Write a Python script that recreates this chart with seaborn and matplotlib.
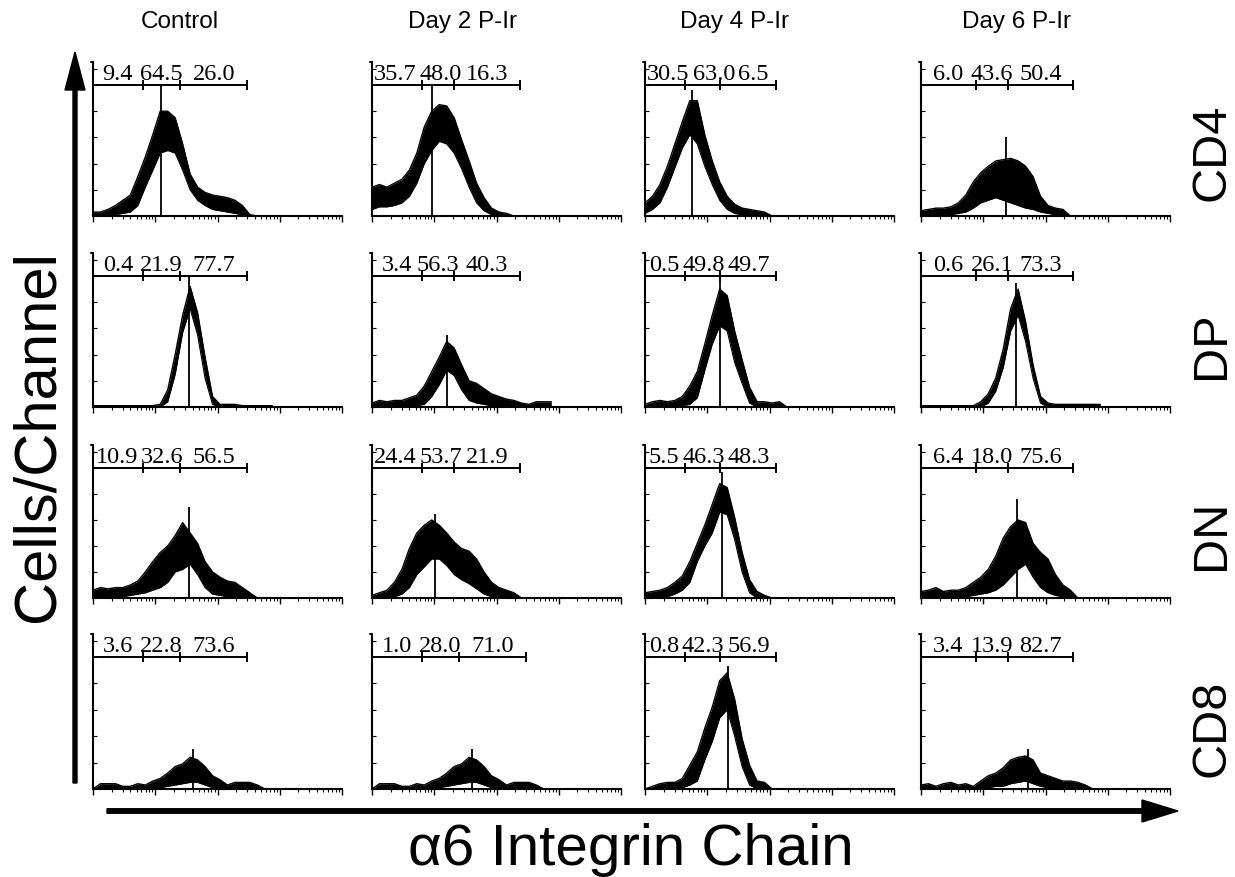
import numpy as np
import pandas as pd
import matplotlib
matplotlib.use("Agg")
import matplotlib.pyplot as plt
import seaborn as sns

# ---------------- data ----------------
columns = ["Control", "Day 2 P-Ir", "Day 4 P-Ir", "Day 6 P-Ir"]
rows = ["CD4", "DP", "DN", "CD8"]

# channel positions (log10 fluorescence, 4 decades axis)
log_channel = [0.00, 0.12, 0.24, 0.36, 0.48, 0.60, 0.72, 0.84, 0.96, 1.08,
               1.20, 1.32, 1.44, 1.56, 1.68, 1.80, 1.92, 2.04, 2.16, 2.28,
               2.40, 2.52, 2.64, 2.76, 2.88]

# gate marks (log10 units) per column: [tick1, tick2, end]
gates_control = [0.80, 1.40, 2.48]
gates_day2 = [0.80, 1.32, 2.38]
gates_day2_cd8 = [0.80, 1.40, 2.48]
gates_day4 = [0.64, 1.20, 2.10]
gates_day6 = [0.88, 1.40, 2.44]

# gate percentages
pct_cd4 = [["9.4", "64.5", "26.0"], ["35.7", "48.0", "16.3"], ["30.5", "63.0", "6.5"], ["6.0", "43.6", "50.4"]]
pct_dp = [["0.4", "21.9", "77.7"], ["3.4", "56.3", "40.3"], ["0.5", "49.8", "49.7"], ["0.6", "26.1", "73.3"]]
pct_dn = [["10.9", "32.6", "56.5"], ["24.4", "53.7", "21.9"], ["5.5", "46.3", "48.3"], ["6.4", "18.0", "75.6"]]
pct_cd8 = [["3.6", "22.8", "73.6"], ["1.0", "28.0", "71.0"], ["0.8", "42.3", "56.9"], ["3.4", "13.9", "82.7"]]

# histogram noise band (upper / lower envelope), fraction of gate-line height
cd4_hi = [
    [.03, .03, .05, .08, .12, .16, .30, .45, .62, .80, .80, .75, .55, .32, .22, .18, .16, .15, .14, .12, .08, .01, 0, 0, 0],
    [.22, .24, .22, .25, .28, .35, .48, .68, .80, .85, .84, .75, .58, .42, .25, .14, .06, .03, .02, 0, 0, 0, 0, 0, 0],
    [.10, .15, .24, .38, .55, .72, .88, .88, .62, .42, .26, .15, .09, .06, .05, .04, .03, 0, 0, 0, 0, 0, 0, 0, 0],
    [.04, .05, .06, .06, .07, .10, .16, .26, .33, .38, .42, .43, .44, .42, .38, .30, .15, .08, .06, .05, 0, 0, 0, 0, 0],
]
cd4_lo = [
    [0, 0, 0, .01, .02, .03, .08, .22, .35, .48, .50, .48, .35, .20, .12, .08, .05, .04, .03, .02, .01, 0, 0, 0, 0],
    [.05, .07, .07, .08, .10, .15, .25, .40, .50, .57, .55, .48, .36, .22, .10, .04, .01, 0, 0, 0, 0, 0, 0, 0, 0],
    [.02, .05, .10, .22, .37, .52, .62, .55, .38, .24, .12, .05, .02, .01, 0, 0, 0, 0, 0, 0, 0, 0, 0, 0, 0],
    [0, 0, 0, 0, .01, .02, .03, .06, .10, .12, .14, .12, .10, .08, .06, .05, .03, .02, .01, 0, 0, 0, 0, 0, 0],
]
dp_hi = [
    [.01, .01, .01, .01, .01, .01, .01, .01, .01, .02, .13, .40, .70, .92, .72, .38, .08, .02, .02, .02, .01, .01, .01, .01, .01],
    [.03, .05, .04, .05, .05, .07, .09, .16, .27, .38, .50, .45, .32, .20, .18, .14, .10, .08, .06, .05, .03, .02, .04, .04, .04],
    [.02, .04, .05, .04, .05, .08, .16, .27, .48, .70, .90, .85, .58, .36, .15, .04, .04, .03, .04, 0, 0, 0, 0, 0, 0],
    [.01, .01, .01, .01, .01, .01, .01, .01, .04, .10, .22, .44, .75, .90, .65, .32, .08, .03, .02, .02, .02, .02, .02, .02, .02],
]
dp_lo = [
    [0, 0, 0, 0, 0, 0, 0, 0, 0, 0, .04, .25, .57, .75, .55, .22, .02, 0, 0, 0, 0, 0, 0, 0, 0],
    [0, 0, 0, 0, 0, .01, .01, .02, .08, .17, .28, .24, .13, .05, .03, .02, .01, 0, 0, 0, 0, 0, 0, 0, 0],
    [0, 0, 0, 0, 0, .01, .02, .07, .28, .48, .62, .58, .34, .18, .03, 0, 0, 0, 0, 0, 0, 0, 0, 0, 0],
    [0, 0, 0, 0, 0, 0, 0, 0, 0, .03, .12, .30, .58, .70, .50, .22, .03, 0, 0, 0, 0, 0, 0, 0, 0],
]
dn_hi = [
    [.06, .08, .07, .08, .08, .10, .13, .20, .28, .35, .40, .48, .58, .50, .42, .28, .20, .16, .13, .12, .08, .04, 0, 0, 0],
    [.02, .04, .06, .12, .22, .38, .50, .56, .60, .56, .50, .43, .38, .36, .30, .20, .12, .08, .06, .04, 0, 0, 0, 0, 0],
    [.04, .05, .06, .08, .12, .17, .28, .42, .56, .72, .88, .85, .62, .35, .14, .05, .02, 0, 0, 0, 0, 0, 0, 0, 0],
    [.05, .06, .08, .05, .06, .06, .08, .12, .16, .22, .32, .46, .55, .60, .58, .42, .35, .30, .18, .10, .06, 0, 0, 0, 0],
]
dn_lo = [
    [0, .01, 0, .01, .01, .02, .03, .04, .06, .08, .12, .20, .22, .26, .18, .08, .03, .02, .01, .01, 0, 0, 0, 0, 0],
    [0, 0, 0, .01, .03, .08, .18, .24, .30, .30, .25, .18, .14, .11, .07, .03, .01, 0, 0, 0, 0, 0, 0, 0, 0],
    [0, 0, .01, .01, .03, .06, .12, .28, .40, .50, .66, .64, .45, .20, .04, 0, 0, 0, 0, 0, 0, 0, 0, 0, 0],
    [0, 0, .01, 0, 0, 0, .01, .02, .03, .04, .06, .10, .16, .22, .26, .16, .08, .04, .02, .01, 0, 0, 0, 0, 0],
]
cd8_hi = [
    [0, .04, .04, .04, .02, .02, .04, .03, .06, .08, .12, .17, .19, .24, .22, .17, .10, .07, .03, .05, .05, .05, .03, 0, 0],
    [0, .04, .04, .04, .02, .02, .04, .03, .06, .08, .12, .17, .19, .24, .22, .17, .10, .07, .03, .05, .05, .05, .03, 0, 0],
    [0, .02, .04, .05, .05, .08, .18, .28, .46, .62, .82, .88, .68, .38, .18, .06, .05, 0, 0, 0, 0, 0, 0, 0, 0],
    [.03, .04, .02, .04, .05, .03, .04, .02, .06, .10, .12, .16, .22, .24, .25, .22, .12, .10, .08, .06, .06, .05, .03, 0, 0],
]
cd8_lo = [
    [0, 0, 0, 0, 0, 0, 0, 0, 0, .01, .02, .03, .04, .05, .05, .03, .01, 0, 0, 0, 0, 0, 0, 0, 0],
    [0, 0, 0, 0, 0, 0, 0, 0, 0, .01, .02, .03, .04, .05, .05, .03, .01, 0, 0, 0, 0, 0, 0, 0, 0],
    [0, 0, 0, 0, 0, .01, .03, .06, .22, .36, .54, .60, .40, .17, .03, 0, 0, 0, 0, 0, 0, 0, 0, 0, 0],
    [0, 0, 0, 0, 0, 0, 0, 0, 0, .01, .02, .02, .04, .05, .06, .04, .02, .01, 0, 0, 0, 0, 0, 0, 0],
]
# tallest single-channel spike per panel: position (log10) and height
spike_pos = [[1.10, 0.96, 0.76, 1.36], [1.54, 1.20, 1.20, 1.52], [1.54, 1.02, 1.24, 1.55], [1.61, 1.61, 1.34, 1.72]]
spike_h = [[1.00, 1.00, 0.96, 0.60], [1.00, 0.55, 0.97, 0.95], [0.70, 0.65, 0.97, 0.76], [0.30, 0.30, 0.93, 0.30]]

row_hi = [cd4_hi, dp_hi, dn_hi, cd8_hi]
row_lo = [cd4_lo, dp_lo, dn_lo, cd8_lo]
row_pct = [pct_cd4, pct_dp, pct_dn, pct_cd8]
col_gates = [gates_control, gates_day2, gates_day4, gates_day6]

# ---------------- layout ----------------
W, H = 1235, 877
sns.set_theme(style="white")
plt.rcParams["font.family"] = ["Liberation Sans", "DejaVu Sans"]
fig = plt.figure(figsize=(W / 100, H / 100), dpi=100)
fig.patch.set_facecolor("white")

col_left = [93, 372, 645, 921]
panel_w = 249
row_bracket = [85, 276, 468, 657]
row_bottom = [216, 407, 598, 789]
top_ext = 23

x_vals = 10 ** np.array(log_channel)
label_sets = []

for r in range(4):
    for c in range(4):
        top_px = row_bracket[r] - top_ext
        h_px = row_bottom[r] - top_px
        ytop = h_px / (row_bottom[r] - row_bracket[r])
        ax = fig.add_axes([col_left[c] / W, 1 - row_bottom[r] / H, panel_w / W, h_px / H])
        ax.set_facecolor("none")
        df = pd.DataFrame({"x": x_vals, "hi": row_hi[r][c], "lo": row_lo[r][c]})
        ax.fill_between(df["x"], df["lo"], df["hi"], color="black", lw=0)
        sns.lineplot(data=df, x="x", y="hi", ax=ax, color="black", lw=1.0, estimator=None)
        sns.lineplot(data=df, x="x", y="lo", ax=ax, color="black", lw=0.8, estimator=None)
        ax.vlines(10 ** spike_pos[r][c], 0, spike_h[r][c], color="black", lw=1.3)
        ax.set_xscale("log")
        ax.set_xlim(1, 1e4)
        ax.set_ylim(0, ytop)
        ax.set_xlabel("")
        ax.set_ylabel("")
        for s in ["top", "right"]:
            ax.spines[s].set_visible(False)
        for s in ["left", "bottom"]:
            ax.spines[s].set_color("black")
            ax.spines[s].set_linewidth(1.5)
        ax.tick_params(axis="x", which="both", direction="out", colors="black", labelbottom=False,
                       bottom=True)
        ax.tick_params(axis="x", which="major", length=4, width=1)
        ax.tick_params(axis="x", which="minor", length=2.5, width=0.8)
        ax.set_yticks([0.2, 0.4, 0.6, 0.8, 1.0, 1.12])
        ax.tick_params(axis="y", which="both", direction="in", length=3, width=0.8,
                       left=True, labelleft=False, colors="black")
        # gate bracket
        g = gates_day2_cd8 if (r == 3 and c == 1) else col_gates[c]
        ax.plot([1, 10 ** g[2]], [1, 1], color="black", lw=1.4, clip_on=False)
        ax.vlines([10 ** g[0], 10 ** g[1], 10 ** g[2]], 0.965, 1.035, color="black", lw=1.4, clip_on=False)
        ax.plot([10 ** -0.04, 1], [ytop, ytop], color="black", lw=1.4, clip_on=False)
        bounds = [0.0, g[0], g[1], g[2]]
        texts = []
        for k, lab in enumerate(row_pct[r][c]):
            xc = 10 ** ((bounds[k] + bounds[k + 1]) / 2)
            t = ax.text(xc, 1.04, lab, ha="center", va="baseline", fontsize=17.5,
                        family=["Liberation Serif", "DejaVu Serif"], color="black")
            texts.append(t)
        label_sets.append((ax, texts, col_left[c]))

# resolve overlaps between neighbouring gate labels (shift in display pixels)
fig.canvas.draw()
renderer = fig.canvas.get_renderer()
for ax, texts, left_px in label_sets:
    inv = ax.transData.inverted()
    boxes = [t.get_window_extent(renderer) for t in texts]
    xs = [(b.x0 + b.x1) / 2 for b in boxes]
    widths = [b.width for b in boxes]
    min_x0 = left_px + 2
    x0_1 = xs[0] - widths[0] / 2
    if x0_1 < min_x0:
        xs[0] += min_x0 - x0_1
    for k in range(1, 3):
        gap = (xs[k] - widths[k] / 2) - (xs[k - 1] + widths[k - 1] / 2)
        if gap < 3:
            need = 3 - gap
            room = (xs[k - 1] - widths[k - 1] / 2) - (left_px + 2) if k == 1 else 0
            move_left = min(need / 2, max(room, 0))
            xs[k - 1] -= move_left
            xs[k] += need - move_left
    ydisp = ax.transData.transform((1, 1.04))[1]
    for t, xd in zip(texts, xs):
        xdat = inv.transform((xd, ydisp))[0]
        t.set_x(xdat)

# overlay for arrows
ax0 = fig.add_axes([0, 0, 1, 1], zorder=-1)
ax0.set_xlim(0, W)
ax0.set_ylim(H, 0)
ax0.axis("off")
ax0.arrow(75, 783, 0, 52 - 783, width=4, head_width=20, head_length=38,
          length_includes_head=True, color="black")
ax0.arrow(107, 811, 1178 - 107, 0, width=4.5, head_width=22, head_length=36,
          length_includes_head=True, color="black")

# texts
title_x = [180, 462, 735, 1017]
for t, x in zip(columns, title_x):
    fig.text(x / W, 1 - 22 / H, t, ha="center", va="center", fontsize=17.5, color="black")
row_y = [152, 345, 535, 728]
for t, y in zip(rows, row_y):
    fig.text(1212 / W, 1 - y / H, t, ha="center", va="center", rotation=90, fontsize=35, color="black")
fig.text(38 / W, 1 - 436 / H, "Cells/Channel", ha="center", va="center", rotation=90,
         fontsize=43, color="black")
fig.text(631 / W, 1 - 850 / H, "α6 Integrin Chain", ha="center", va="center", fontsize=42,
         color="black")

fig.savefig("out.png", dpi=100, facecolor="white")
